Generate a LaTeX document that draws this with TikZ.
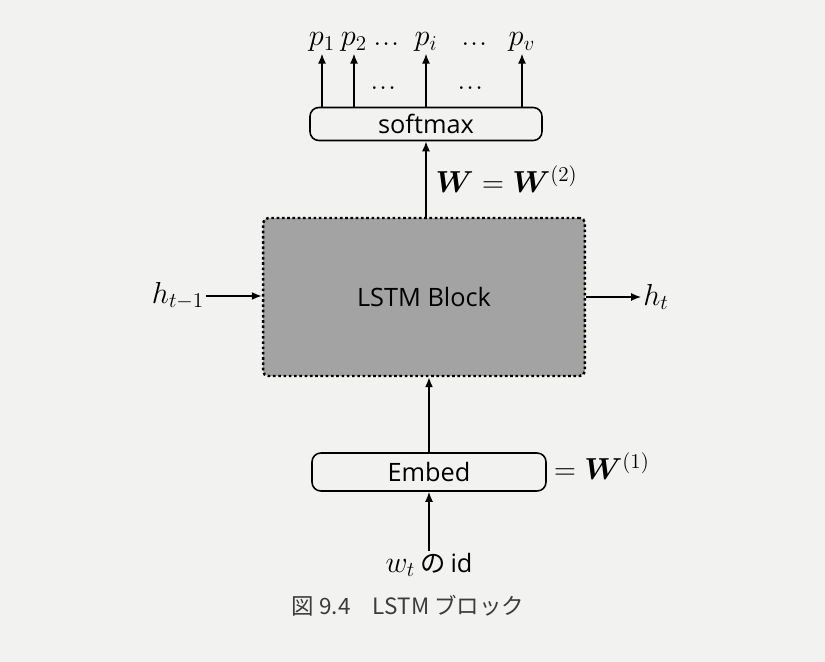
\documentclass[tikz,border=0pt]{standalone}
\usepackage{amsmath}
\usepackage{bm}
\usepackage{fontspec}
\setsansfont{Open Sans}
\newfontfamily\jpfont{Noto Sans CJK JP}
\usepackage{tikz}
\usetikzlibrary{arrows.meta, positioning}
\definecolor{paper}{RGB}{242,242,241}
\definecolor{blockgray}{RGB}{163,163,163}
\definecolor{captext}{RGB}{60,60,60}

\tikzset{
  layerbox/.style={draw, rounded corners=5pt, line width=0.9pt, font=\sffamily\Large},
  arr/.style={-{Latex[length=2mm,width=1.6mm]}, line width=0.9pt},
  lbl/.style={font=\LARGE, inner sep=1pt},
  dotslbl/.style={font=\normalsize, inner sep=1pt}
}

\begin{document}
\begin{tikzpicture}[x=0.02cm, y=-0.02cm]
  % paper
  \fill[paper] (0,0) rectangle (825,662);
  \useasboundingbox (0,0) rectangle (825,662);

  % LSTM block
  \node[draw, fill=blockgray, line width=1.4pt, dash pattern=on 1.5pt off 1.5pt, rounded corners=3pt,
        minimum width=6.44cm, minimum height=3.16cm, font=\sffamily\Large] (lstm) at (424,297) {LSTM Block};

  % softmax and outputs
  \node[layerbox, minimum width=4.64cm, minimum height=0.66cm, inner sep=0pt] (softmax) at (426,124) {softmax};
  \node[lbl] (p1) at (322,42) {$p_1$};
  \node[lbl] (p2) at (354,42) {$p_2$};
  \node[dotslbl] (dl) at (388,44) {$\bm{\cdots}$};
  \node[lbl] (pi) at (426,42) {$p_i$};
  \node[dotslbl] (dr) at (476,44) {$\bm{\cdots}$};
  \node[lbl] (pv) at (522,42) {$p_v$};
  \node[dotslbl] (dm1) at (385,88) {$\bm{\cdots}$};
  \node[dotslbl] (dm2) at (472,88) {$\bm{\cdots}$};
  \foreach \p in {p1,p2,pi,pv}
    \draw[arr] (softmax.north -| \p) -- (\p.south);

  \draw[arr] (lstm.north -| softmax) -- (softmax.south) node[midway, right=4pt, lbl] (w2) {$\bm{W}=\bm{W}^{(2)}$};

  % recurrent state
  \node[lbl] (hprev) at (178,296) {$h_{t-1}$};
  \node[lbl] (hnext) at (656,297) {$h_t$};
  \draw[arr] (hprev.east) -- (lstm.west |- hprev.east);
  \draw[arr] (lstm.east |- hnext.west) -- (hnext.west);

  % embedding
  \node[layerbox, minimum width=4.68cm, minimum height=0.76cm, inner sep=0pt] (embed) at (429,472) {Embed};
  \node[lbl, anchor=west] (w1) at (552,466) {$=\bm{W}^{(1)}$};
  \draw[arr] (embed.north) -- (lstm.south -| embed.north);
  \node[lbl] (wid) at (429,565) {$w_t$\,{\jpfont\Large の}\,{\sffamily\Large id}};
  \draw[arr] (wid.north) -- (embed.south);

  % caption
  \node[font=\jpfont\fontsize{12.8}{15}\selectfont, text=captext] (cap) at (408,606) {図 9.4\quad LSTM ブロック};
\end{tikzpicture}
\end{document}
